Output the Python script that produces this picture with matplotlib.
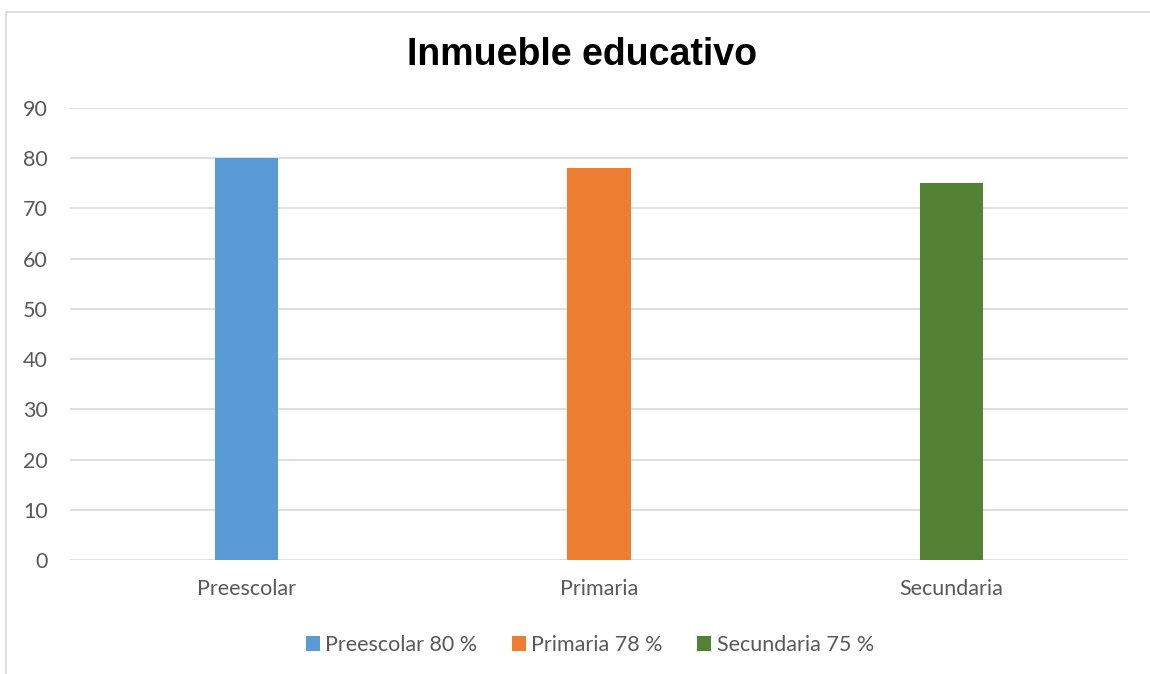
import matplotlib
matplotlib.use("Agg")
import matplotlib.pyplot as plt
from matplotlib.patches import Rectangle, Patch

categories = ["Preescolar", "Primaria", "Secundaria"]
values = [80, 78, 75]
legend_labels = ["Preescolar 80 %", "Primaria 78 %", "Secundaria 75 %"]
colors = ["#5B9BD5", "#ED7D31", "#548235"]
yticks = [0, 10, 20, 30, 40, 50, 60, 70, 80, 90]

W, H = 1150, 674
fig = plt.figure(figsize=(W / 100, H / 100), dpi=100)
fig.patch.set_facecolor("white")

# chart border (top and left visible, others cropped)
fig.patches.append(Rectangle((6 / W, -0.05), 1.2, 1 - 12 / H + 0.05,
                             transform=fig.transFigure, fill=False,
                             edgecolor="#d9d9d9", linewidth=1.2))

ax = fig.add_axes([70 / W, 1 - 560 / H, (1128 - 70) / W, (560 - 108) / H])
x = list(range(len(categories)))
ax.bar(x, values, width=0.18, color=colors, zorder=3)
ax.set_xlim(-0.5, 2.5)
ax.set_ylim(0, 90)
ax.set_yticks(yticks)
ax.set_xticks(x)
ax.set_xticklabels(categories)
for s in ax.spines.values():
    s.set_visible(False)
ax.grid(axis="y", color="#d9d9d9", linewidth=1.2, zorder=0)
ax.set_axisbelow(True)
ax.tick_params(axis="both", length=0, labelcolor="#595959", labelsize=15.5)
ax.tick_params(axis="y", pad=16)
ax.tick_params(axis="x", pad=14)
for lab in ax.get_xticklabels() + ax.get_yticklabels():
    lab.set_family("Lato")

fig.text(582 / W, 1 - 55 / H, "Inmueble educativo", ha="center", va="center",
         fontsize=27, fontweight="bold", family="Liberation Sans", color="black")

handles = [Patch(facecolor=c, edgecolor="none") for c in colors]
leg = fig.legend(handles, legend_labels, loc="center",
                 bbox_to_anchor=(590 / W, 1 - 645 / H), ncol=3, frameon=False,
                 handlelength=0.65, handleheight=0.65, handletextpad=0.25,
                 columnspacing=1.6, prop={"family": "Lato", "size": 15.5})
for t in leg.get_texts():
    t.set_color("#595959")

fig.savefig("out.png", dpi=100, facecolor="white")
